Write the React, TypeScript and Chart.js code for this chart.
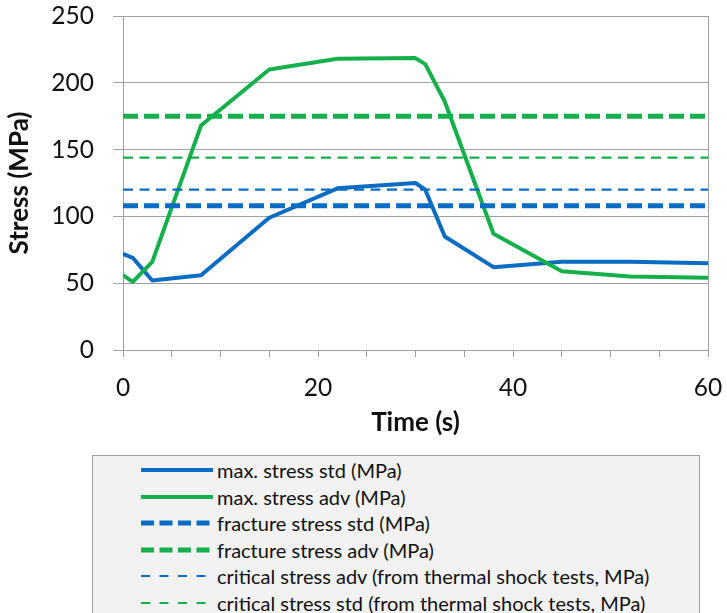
import React, { useEffect, useRef } from "react";
import { Chart, registerables } from "chart.js";

Chart.register(...registerables);

// ---- data ----
const timeS = [0, 1, 3, 8, 15, 22, 30, 31, 33, 38, 45, 52, 60];
const maxStressStd = [72, 69, 52, 56, 99, 121, 125, 120, 85, 62, 66, 66, 65];
const maxStressAdv = [56, 51, 66, 168, 210, 218, 218.5, 214, 186, 87, 59, 55, 54];
const fractureStressStd = 108;
const fractureStressAdv = 175;
const criticalStressAdv = 120;
const criticalStressStd = 144;
const timeMin = 0;
const timeMax = 60;
const stressMin = 0;
const stressMax = 250;
const stressStep = 50;
const timeStep = 5;
const timeLabelStep = 20;

const seriesLabels = [
  "max. stress std (MPa)",
  "max. stress adv (MPa)",
  "fracture stress std (MPa)",
  "fracture stress adv (MPa)",
  "critical stress adv (from thermal shock tests, MPa)",
  "critical stress std (from thermal shock tests, MPa)",
];

// ---- styles ----
const BLUE = "#0a6cc2";
const GREEN = "#15b04c";
const GRID = "#a0a0a0";
const FONT = "Lato, 'Open Sans', sans-serif";

type LineStyle = { color: string; width: number; dash: number[] };
const plotStyles: LineStyle[] = [
  { color: BLUE, width: 4, dash: [] },
  { color: GREEN, width: 4, dash: [] },
  { color: BLUE, width: 5, dash: [15, 6] },
  { color: GREEN, width: 5, dash: [15, 6] },
  { color: BLUE, width: 2.2, dash: [10, 6.5] },
  { color: GREEN, width: 2.2, dash: [10, 6.5] },
];
const legendDash: number[][] = [[], [], [13, 5.5], [13, 5.5], [9, 9.5], [9, 9.5]];

const series = (vals: number[]) => timeS.map((t, i) => ({ x: t, y: vals[i] }));
const flat = (v: number) => [
  { x: timeMin, y: v },
  { x: timeMax, y: v },
];

const rightBorder = {
  id: "rightBorder",
  afterDatasetsDraw(chart: any) {
    const { ctx, chartArea } = chart;
    ctx.save();
    ctx.strokeStyle = GRID;
    ctx.lineWidth = 1;
    ctx.beginPath();
    ctx.moveTo(Math.round(chartArea.right) + 0.5, chartArea.top);
    ctx.lineTo(Math.round(chartArea.right) + 0.5, chartArea.bottom);
    ctx.stroke();
    ctx.restore();
  },
};

export default function App() {
  const ref = useRef<HTMLCanvasElement | null>(null);

  useEffect(() => {
    if (!ref.current) return;
    const dataSets = [
      series(maxStressStd),
      series(maxStressAdv),
      flat(fractureStressStd),
      flat(fractureStressAdv),
      flat(criticalStressAdv),
      flat(criticalStressStd),
    ];
    const chart = new Chart(ref.current, {
      type: "line",
      data: {
        datasets: dataSets.map((d, i) => ({
          label: seriesLabels[i],
          data: d,
          borderColor: plotStyles[i].color,
          backgroundColor: plotStyles[i].color,
          borderWidth: plotStyles[i].width,
          borderDash: plotStyles[i].dash,
          borderCapStyle: "butt",
          borderJoinStyle: "round",
          pointRadius: 0,
          tension: 0,
          fill: false,
          order: 6 - i,
        })),
      },
      options: {
        animation: false,
        responsive: true,
        maintainAspectRatio: false,
        layout: { padding: { top: 16, right: 19, left: 0, bottom: 175 } },
        plugins: { legend: { display: false }, tooltip: { enabled: false } },
        scales: {
          x: {
            type: "linear",
            min: timeMin,
            max: timeMax,
            afterFit: (s: any) => {
              s.height = 88;
              s.paddingLeft = 0;
              s.paddingRight = 0;
            },
            ticks: {
              stepSize: timeStep,
              autoSkip: false,
              maxRotation: 0,
              padding: 16,
              color: "#111",
              font: { family: FONT, size: 24.5 },
              callback: (v: any) => (Number(v) % timeLabelStep === 0 ? String(v) : ""),
            },
            grid: { drawOnChartArea: false, drawTicks: true, tickLength: 7, color: GRID },
            border: { color: GRID },
            title: {
              display: true,
              text: "Time (s)",
              color: "#111",
              font: { family: FONT, size: 26, weight: "bold" },
              padding: { top: 0, bottom: 0 },
            },
          },
          y: {
            min: stressMin,
            max: stressMax,
            afterFit: (s: any) => {
              s.width = 123;
              s.paddingTop = 0;
              s.paddingBottom = 0;
            },
            ticks: {
              stepSize: stressStep,
              padding: 19,
              color: "#111",
              font: { family: FONT, size: 24.5 },
            },
            grid: { color: GRID, tickLength: 10 },
            border: { color: GRID },
            title: {
              display: true,
              text: "Stress (MPa)",
              color: "#111",
              font: { family: FONT, size: 26, weight: "bold" },
              padding: { top: 4, bottom: 0 },
            },
          },
        },
      },
      plugins: [rightBorder],
    } as any);
    return () => chart.destroy();
  }, []);

  return (
    <div
      style={{
        position: "absolute",
        left: 0,
        top: 0,
        width: 727,
        height: 613,
        overflow: "hidden",
        background: "#fff",
      }}
    >
      <div style={{ position: "absolute", left: 0, top: 0, width: 727, height: 613 }}>
        <canvas ref={ref} />
      </div>
      <div
        style={{
          position: "absolute",
          left: 92,
          top: 455,
          width: 608,
          height: 175,
          boxSizing: "border-box",
          background: "#f2f2f2",
          border: "1px solid #a0a0a0",
          fontFamily: FONT,
          fontSize: 20,
          color: "#111",
        }}
      >
        {seriesLabels.map((lab, i) => (
          <div
            key={lab}
            style={{
              position: "absolute",
              left: 48,
              top: 14 + i * 26.6 - 13,
              height: 26,
              display: "flex",
              alignItems: "center",
              whiteSpace: "nowrap",
            }}
          >
            <svg width={72} height={10} style={{ display: "block" }}>
              <line
                x1={0}
                y1={5}
                x2={72}
                y2={5}
                stroke={plotStyles[i].color}
                strokeWidth={plotStyles[i].width}
                strokeDasharray={legendDash[i].length ? legendDash[i].join(" ") : undefined}
              />
            </svg>
            <span style={{ marginLeft: 4, lineHeight: "26px" }}>{lab}</span>
          </div>
        ))}
      </div>
    </div>
  );
}
